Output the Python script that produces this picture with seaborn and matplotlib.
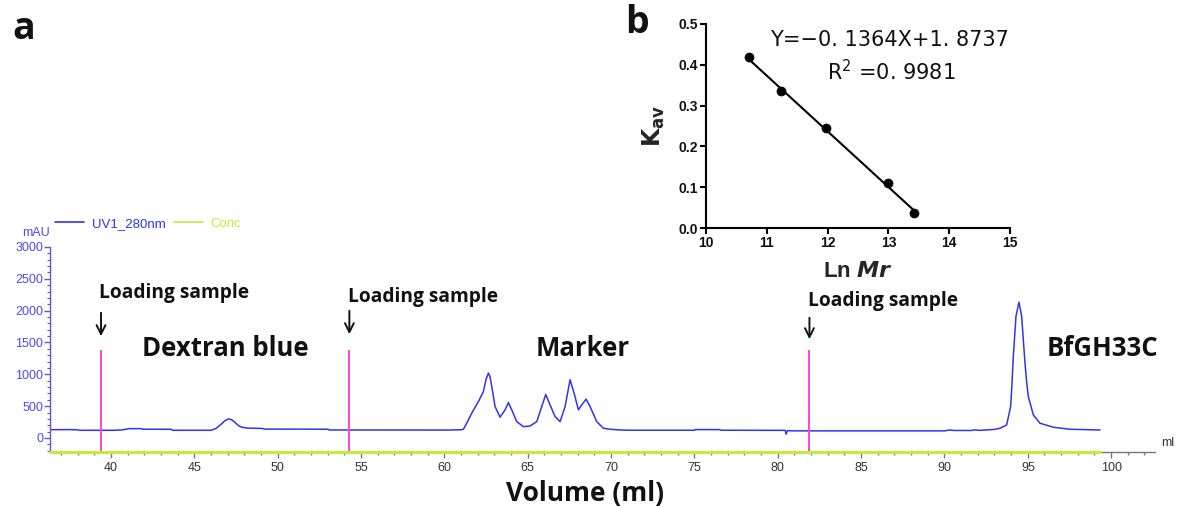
import numpy as np
import pandas as pd
import matplotlib
matplotlib.use("Agg")
import matplotlib.pyplot as plt
from matplotlib.ticker import MultipleLocator, FormatStrFormatter
from matplotlib import font_manager
import seaborn as sns

# ---- chromatogram (UV 280 nm) ----
volume_ml = [36.34, 37.5, 38.0, 38.1, 39.0, 40.1, 40.6, 41.1, 41.8, 41.9, 43.6, 43.7,
             46.0, 46.3, 46.6, 46.85, 47.06, 47.25, 47.45, 47.65, 47.85, 48.2, 49.1, 49.2,
             53.0, 53.1, 60.3, 61.0, 61.14, 61.34, 61.64, 62.04, 62.34, 62.5, 62.64, 62.74,
             62.84, 63.04, 63.34, 63.64, 63.84, 64.04, 64.34, 64.74, 65.14, 65.54, 65.84,
             66.08, 66.34, 66.64, 66.94, 67.24, 67.54, 67.78, 68.04, 68.24, 68.5, 68.74,
             69.14, 69.54, 69.94, 70.5, 71.0, 75.0, 75.05, 76.5, 76.6, 80.45, 80.5, 80.58,
             81.0, 90.0, 90.3, 90.6, 91.6, 91.8, 92.1, 93.0, 93.33, 93.73, 93.97, 94.05,
             94.13, 94.29, 94.47, 94.63, 94.83, 94.93, 95.03, 95.33, 95.73, 96.53, 97.53,
             99.33]
uv280_mau = [130, 132, 128, 121, 121, 121, 125, 147, 147, 138, 137, 121,
             121, 150, 215, 275, 300, 285, 241, 195, 169, 155, 150, 140,
             138, 126, 125, 130, 137, 232, 390, 573, 730, 920, 1020, 960,
             810, 494, 326, 442, 557, 442, 257, 178, 189, 257, 494,
             683, 520, 336, 257, 494, 915, 705, 442, 520, 610, 494,
             257, 153, 137, 127, 122, 122, 132, 132, 122, 120, 60, 115,
             112, 112, 125, 118, 118, 128, 120, 135, 153, 205, 494, 850,
             1282, 1913, 2134, 1913, 1178, 880, 651, 363, 232, 169, 137,
             126]
conc_end_ml = 99.33
loading_ml = [39.4, 54.3, 81.9]
loading_line_top = 1390
peak_labels = ["Dextran blue", "Marker", "BfGH33C"]
peak_label_ml = [46.84, 68.3, 99.5]

# ---- calibration curve ----
ln_mr = [10.7, 11.23, 11.98, 13.0, 13.42]
kav = [0.418, 0.336, 0.244, 0.11, 0.036]
slope, intercept, r2 = -0.1364, 1.8737, 0.9981

sns.set_style("ticks")
plt.rcParams["font.family"] = ["Liberation Sans", "DejaVu Sans"]

# heading font: first installed family that ships a bold face
HEAD = ["DejaVu Sans"]
for fam in ["Open Sans", "Noto Sans", "Lato", "Roboto"]:
    try:
        p = font_manager.findfont(font_manager.FontProperties(family=fam, weight="bold"),
                                  fallback_to_default=False)
        if "bold" in p.lower() or "700" in p or "black" in p.lower():
            HEAD = [fam, "DejaVu Sans"]
            break
    except Exception:
        pass

W, H = 1177, 508
fig = plt.figure(figsize=(W / 100, H / 100), dpi=100)

BLUE = "#3232f0"
TICKBLUE = "#4b4bf2"
MAGENTA = "#ff40e8"
GREEN = "#c6ea3a"

YMIN, YMAX = -220, 3000
XMIN, XMAX = 36.34, 102.63
ax = fig.add_axes([50 / W, 1 - 452 / H, (1155 - 50) / W, (452 - 247) / H])

trace = pd.DataFrame({"Volume": volume_ml, "UV1_280nm": uv280_mau})
sns.lineplot(data=trace, x="Volume", y="UV1_280nm", ax=ax, color=BLUE, lw=1.1,
             estimator=None, sort=False, label="UV1_280nm")
conc = pd.DataFrame({"Volume": [XMIN, conc_end_ml], "Conc": [YMIN, YMIN]})
sns.lineplot(data=conc, x="Volume", y="Conc", ax=ax, color=GREEN, lw=2.2,
             estimator=None, sort=False, label="Conc", clip_on=False, zorder=5)

for v in loading_ml:
    ax.vlines(v, YMIN, loading_line_top, color=MAGENTA, lw=1.4, zorder=4)

ax.set_xlim(XMIN, XMAX)
ax.set_ylim(YMIN, YMAX)
ax.set_xlabel("")
ax.set_ylabel("")
for s in ("top", "right"):
    ax.spines[s].set_visible(False)
ax.spines["left"].set_color("#5a5ad0")
ax.spines["left"].set_bounds(YMIN, YMAX)
ax.spines["bottom"].set_color("#777777")
ax.spines["left"].set_linewidth(1.0)
ax.spines["bottom"].set_linewidth(1.0)

ax.xaxis.set_major_locator(MultipleLocator(5))
ax.xaxis.set_minor_locator(MultipleLocator(1))
ax.yaxis.set_major_locator(MultipleLocator(500))
ax.yaxis.set_minor_locator(MultipleLocator(100))
ax.tick_params(axis="x", which="major", length=4, width=1, color="#777777",
               labelcolor="#333333", labelsize=9, pad=3)
ax.tick_params(axis="x", which="minor", length=2.5, width=1, color="#777777")
ax.tick_params(axis="y", which="major", length=4, width=1, color="#5a5ad0",
               labelcolor=TICKBLUE, labelsize=9, pad=1)
ax.tick_params(axis="y", which="minor", length=2, width=0.8, color="#5a5ad0")
ax.set_xticks([t for t in range(40, 101, 5)])

leg = ax.legend(loc="lower left", bbox_to_anchor=(55 / W, 1 - 230 / H),
                bbox_transform=fig.transFigure, ncol=2, frameon=False,
                fontsize=9.5, handlelength=2.2, handletextpad=0.6, columnspacing=0.6,
                borderaxespad=0, borderpad=0)
for t, c in zip(leg.get_texts(), [BLUE, GREEN]):
    t.set_color(c)
for h in leg.get_lines():
    h.set_linewidth(1.2)

fig.text(50 / W, 1 - 233 / H, "mAU", ha="right", va="center", color=TICKBLUE, fontsize=9)
fig.text(1161 / W, 1 - 443 / H, "ml", ha="left", va="center", color="#333333", fontsize=9)

def px_to_mau(py):
    return YMIN + (452 - py) / 205 * (YMAX - YMIN)

text_y = [292.7, 296.7, 300.7]
arrow_top = [310, 308, 315]
arrow_tip = [339, 337, 342]
for v, ty, a0, a1 in zip(loading_ml, text_y, arrow_top, arrow_tip):
    ax.text(v - 0.1, px_to_mau(ty), "Loading sample", ha="left", va="center",
            fontsize=13.8, fontweight="bold", family=HEAD, color="#111111")
    ax.annotate("", xy=(v, px_to_mau(a1)), xytext=(v, px_to_mau(a0)),
                arrowprops=dict(arrowstyle="->", lw=1.4, color="#111111",
                                mutation_scale=16))

for lab, v in zip(peak_labels, peak_label_ml):
    ax.text(v, px_to_mau(349), lab, ha="center", va="center", fontsize=18.5,
            fontweight="bold", family=HEAD, color="#111111")

fig.text(585 / W, 1 - 494 / H, "Volume (ml)", ha="center", va="center",
         fontsize=19, fontweight="bold", family=HEAD, color="#111111")

fig.text(12 / W, 1 - 39 / H, "a", ha="left", va="baseline", fontsize=27,
         fontweight="bold", family=HEAD, color="#111111")
fig.text(625 / W, 1 - 33 / H, "b", ha="left", va="baseline", fontsize=27,
         fontweight="bold", family=HEAD, color="#111111")

# ---- inset: Kav vs ln Mr ----
axb = fig.add_axes([706 / W, 1 - 228 / H, 304 / W, 204 / H])
cal = pd.DataFrame({"ln_mr": ln_mr, "kav": kav})
fit_x = np.array([min(ln_mr), max(ln_mr)])
fit = pd.DataFrame({"ln_mr": fit_x, "kav": slope * fit_x + intercept})
sns.lineplot(data=fit, x="ln_mr", y="kav", ax=axb, color="black", lw=1.5)
sns.scatterplot(data=cal, x="ln_mr", y="kav", ax=axb, color="black", s=42,
                edgecolor="black", zorder=3)
axb.set_xlim(10, 15)
axb.set_ylim(0, 0.5)
axb.xaxis.set_major_locator(MultipleLocator(1))
axb.yaxis.set_major_locator(MultipleLocator(0.1))
axb.yaxis.set_major_formatter(FormatStrFormatter("%.1f"))
for s in ("top", "right"):
    axb.spines[s].set_visible(False)
for s in ("left", "bottom"):
    axb.spines[s].set_color("black")
    axb.spines[s].set_linewidth(1.5)
axb.tick_params(axis="both", length=4, width=1.5, color="black", labelsize=10,
                labelcolor="#111111", pad=2)
for lbl in axb.get_xticklabels() + axb.get_yticklabels():
    lbl.set_fontweight("bold")
axb.set_xlabel(r"Ln $\mathbfit{Mr}$", fontsize=16, fontweight="bold", labelpad=8)
axb.set_ylabel(r"$\mathbf{K}_{\mathbf{av}}$", fontsize=17, labelpad=8)
axb.text(0.605, 0.92, "Y=−0. 1364X+1. 8737", transform=axb.transAxes, ha="center",
         va="center", fontsize=15, family=["DejaVu Sans"], color="#111111")
axb.text(0.61, 0.765, "R$^2$ =0. 9981", transform=axb.transAxes, ha="center",
         va="center", fontsize=15, family=["DejaVu Sans"], color="#111111")

fig.savefig("out.png", dpi=100)
